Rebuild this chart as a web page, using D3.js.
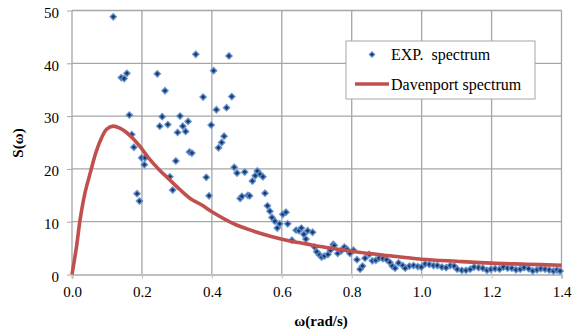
<!DOCTYPE html>
<html>
<head>
<meta charset="utf-8">
<script src="https://cdn.jsdelivr.net/npm/d3@7"></script>
<style>
  body { margin: 0; background: #fff; }
  svg, svg text { font-family: "Liberation Serif", "Times New Roman", serif; }
  svg { display: block; }
</style>
</head>
<body>
<div id="chart"></div>
<script>
// tick labels
var xTicks = [0, 0.2, 0.4, 0.6, 0.8, 1.0, 1.2, 1.4]
var yTicks = [0, 10, 20, 30, 40, 50]

var expOmega = [0.118, 0.141, 0.149, 0.157, 0.164, 0.171, 0.177, 0.186, 0.193, 0.199,
  0.207, 0.209, 0.244, 0.251, 0.258, 0.266, 0.274, 0.280, 0.288, 0.297,
  0.302, 0.309, 0.317, 0.325, 0.332, 0.336, 0.343, 0.354, 0.375, 0.384,
  0.392, 0.398, 0.405, 0.413, 0.419, 0.428, 0.435, 0.442, 0.449, 0.457,
  0.464, 0.472, 0.481, 0.486, 0.494, 0.503, 0.508, 0.516, 0.524, 0.530,
  0.538, 0.546, 0.552, 0.559, 0.566, 0.572, 0.580, 0.587, 0.594, 0.603,
  0.612, 0.617, 0.629, 0.641, 0.649, 0.656, 0.663, 0.669, 0.674, 0.688,
  0.694, 0.700, 0.708, 0.714, 0.722, 0.732, 0.739, 0.747, 0.750, 0.760,
  0.770, 0.779, 0.786, 0.795, 0.805, 0.815, 0.824, 0.831, 0.838, 0.850,
  0.859, 0.869, 0.878, 0.889, 0.900, 0.909, 0.916, 0.924, 0.934, 0.946,
  0.953, 0.965, 0.977, 0.989, 0.999, 1.010, 1.022, 1.034, 1.045, 1.058,
  1.070, 1.082, 1.093, 1.102, 1.115, 1.127, 1.139, 1.150, 1.163, 1.175,
  1.187, 1.198, 1.210, 1.223, 1.234, 1.246, 1.258, 1.270, 1.282, 1.293,
  1.306, 1.318, 1.330, 1.341, 1.353, 1.365, 1.377, 1.387, 1.396]
var expS = [48.8, 37.3, 37.1, 38.1, 30.2, 26.5, 24.1, 15.3, 13.9, 22.1,
  20.8, 22.1, 38.0, 28.1, 29.9, 34.8, 28.4, 18.5, 16.0, 21.5,
  26.9, 30.0, 28.1, 27.1, 29.0, 23.2, 23.0, 41.7, 33.6, 18.4,
  14.9, 28.3, 38.6, 31.2, 24.0, 25.0, 26.2, 31.6, 41.4, 33.7,
  20.3, 19.2, 14.4, 14.8, 19.4, 15.0, 14.9, 17.7, 18.7, 19.6,
  19.0, 18.5, 15.4, 13.0, 12.0, 10.8, 10.1, 8.8, 9.6, 11.4,
  11.8, 9.6, 6.5, 8.4, 8.3, 8.8, 7.6, 6.7, 8.3, 8.0,
  5.2, 4.3, 3.7, 3.3, 3.5, 3.8, 4.6, 5.7, 5.5, 4.0,
  4.5, 5.2, 4.8, 4.0, 4.6, 2.8, 1.0, 1.6, 3.1, 3.8,
  2.6, 2.7, 3.1, 3.0, 2.8, 2.3, 1.6, 1.2, 2.2, 1.7,
  1.2, 1.6, 1.7, 1.5, 1.4, 2.0, 1.9, 1.7, 1.7, 1.4,
  1.3, 1.7, 1.6, 1.0, 0.8, 0.8, 1.0, 1.4, 1.3, 1.2,
  0.8, 1.0, 1.1, 1.0, 1.4, 1.2, 1.2, 0.9, 1.0, 1.3,
  1.1, 0.7, 0.9, 1.1, 1.0, 0.85, 0.66, 0.85, 0.66]

// Davenport spectrum
var davOmega = [0, 0.013, 0.023, 0.037, 0.052, 0.066, 0.080, 0.099, 0.118, 0.137,
  0.156, 0.175, 0.195, 0.22, 0.25, 0.28, 0.31, 0.34, 0.37, 0.40,
  0.46, 0.52, 0.57, 0.62, 0.67, 0.71, 0.76, 0.81, 0.9, 1.0,
  1.1, 1.2, 1.3, 1.4]
var davS = [0, 5.3, 10.3, 15.4, 19.2, 22.6, 25.2, 27.5, 28.1, 27.7,
  26.9, 25.7, 24.2, 22.0, 19.8, 17.9, 16.0, 14.3, 13.2, 11.9,
  9.7, 8.2, 7.2, 6.4, 5.8, 5.3, 4.8, 4.3, 3.6, 2.9,
  2.5, 2.15, 1.95, 1.75]

var width = 575
var height = 333
var font = '"Liberation Serif", "Times New Roman", serif'

var svg = d3.select("#chart")
  .append("svg")
    .attr("width", width)
    .attr("height", height)

var x = d3.scaleLinear().domain([0, 1.4]).range([72, 561.5])
var y = d3.scaleLinear().domain([0, 50]).range([274.5, 10.5])

// grid lines
svg.append("g")
  .selectAll("line")
  .data(yTicks.filter(d => d > 0))
  .enter()
  .append("line")
    .attr("x1", x(0)).attr("x2", x(1.4))
    .attr("y1", d => y(d)).attr("y2", d => y(d))
    .attr("stroke", "#a6a6a6")
    .attr("stroke-width", 1.3)

svg.append("g")
  .selectAll("line")
  .data(xTicks)
  .enter()
  .append("line")
    .attr("x1", d => x(d)).attr("x2", d => x(d))
    .attr("y1", y(50)).attr("y2", y(0))
    .attr("stroke", "#a6a6a6")
    .attr("stroke-width", 1.3)

// y axis
var yAxis = svg.append("g")
  .attr("transform", "translate(" + x(0) + ",0)")
  .call(d3.axisLeft(y).tickValues(yTicks).tickSize(5).tickPadding(8).tickFormat(d3.format("d")))
yAxis.attr("font-family", font).attr("font-size", 15)
yAxis.select(".domain").remove()
yAxis.selectAll(".tick line").attr("stroke", "#a6a6a6")
yAxis.selectAll("text")
  .attr("fill", "#000")
  .attr("dy", "0.45em")

// x axis
var xAxis = svg.append("g")
  .attr("transform", "translate(0," + y(0) + ")")
  .call(d3.axisBottom(x).tickValues(xTicks).tickSize(4).tickPadding(8).tickFormat(d3.format(".1f")))
xAxis.attr("font-family", font).attr("font-size", 15)
xAxis.select(".domain")
  .attr("stroke", "#bfbfbf")
  .attr("stroke-width", 2.2)
xAxis.selectAll(".tick line").attr("stroke", "#bfbfbf")
xAxis.selectAll("text").attr("fill", "#000")

// axis titles
svg.append("text")
  .attr("x", 321).attr("y", 326)
  .attr("text-anchor", "middle")
  .attr("font-family", font)
  .style("font-size", "15px")
  .style("font-weight", "bold")
  .text("ω(rad/s)")

svg.append("text")
  .attr("transform", "translate(23,143) rotate(-90)")
  .attr("text-anchor", "middle")
  .attr("font-family", font)
  .style("font-size", "15px")
  .style("font-weight", "bold")
  .text("S(ω)")

// Davenport curve
var davData = davOmega.map((w, i) => ({ w: w, s: davS[i] }))
var line = d3.line()
  .x(d => x(d.w))
  .y(d => y(d.s))
  .curve(d3.curveCatmullRom.alpha(0.5))

// experimental points (square turned 45deg, like the Excel diamond)
var expData = expOmega.map((w, i) => ({ w: w, s: expS[i] }))
var diamond = d3.symbol().type(d3.symbolSquare).size(19)

svg.append("g")
  .selectAll("path")
  .data(expData)
  .enter()
  .append("path")
    .attr("d", diamond)
    .attr("transform", d => "translate(" + x(d.w) + "," + y(d.s) + ") rotate(45)")
    .attr("fill", "#1f3763")
    .attr("stroke", "#5a8ed2")
    .attr("stroke-width", 1.5)
    .attr("stroke-opacity", 0.85)

svg.append("path")
  .datum(davData)
  .attr("d", line)
  .attr("fill", "none")
  .attr("stroke", "#c0504d")
  .attr("stroke-width", 3.6)
  .attr("stroke-linejoin", "round")

// legend
var legend = svg.append("g").attr("font-family", font)
legend.append("rect")
  .attr("x", 346).attr("y", 41)
  .attr("width", 189).attr("height", 58)
  .attr("fill", "#fff")
  .attr("stroke", "#a6a6a6")
  .attr("stroke-width", 1)

legend.append("path")
  .attr("d", d3.symbol().type(d3.symbolSquare).size(14))
  .attr("transform", "translate(372,54.5) rotate(45)")
  .attr("fill", "#1f3763")
  .attr("stroke", "#5a8ed2")
  .attr("stroke-width", 1.2)

legend.append("text")
  .attr("x", 391).attr("y", 59.5)
  .style("font-size", "16px")
  .style("white-space", "pre")
  .text("EXP.  spectrum")

legend.append("line")
  .attr("x1", 355).attr("x2", 389)
  .attr("y1", 84).attr("y2", 84)
  .attr("stroke", "#c0504d")
  .attr("stroke-width", 3.6)

legend.append("text")
  .attr("x", 391).attr("y", 89.5)
  .style("font-size", "16px")
  .text("Davenport spectrum")
</script>
</body>
</html>
